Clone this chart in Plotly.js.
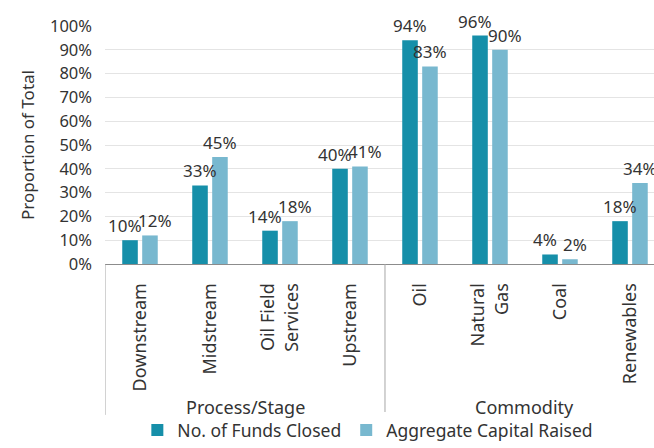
<!DOCTYPE html>
<html>
<head>
<meta charset="utf-8">
<script src="https://cdn.plot.ly/plotly-3.0.1.min.js"></script>
<style>
  html, body { margin: 0; padding: 0; background: #fff; }
  #chart { width: 654px; height: 448px; }
</style>
</head>
<body>
<div id="chart"></div>
<script>
// Categories, grouped into two sections
const categories = ["Downstream", "Midstream", "Oil Field Services", "Upstream",
                    "Oil", "Natural Gas", "Coal", "Renewables"];
const categoryLabels = ["Downstream", "Midstream", "Oil Field<br>Services", "Upstream",
                        "Oil", "Natural<br>Gas", "Coal", "Renewables"];
const groupNames = ["Process/Stage", "Commodity"];
const groupSizes = [4, 4];

// Shares of the total, per series
const fundsClosed = [0.10, 0.33, 0.14, 0.40, 0.94, 0.96, 0.04, 0.18];
const capitalRaised = [0.12, 0.45, 0.18, 0.41, 0.83, 0.90, 0.02, 0.34];

const seriesNames = ["No. of Funds Closed", "Aggregate Capital Raised"];
const seriesColors = ["#168fa9", "#78b8cf"];

const FONT = "Noto Sans, sans-serif";
const TEXT = "#333333";
const BARGAP = 0.43;
const BARGROUPGAP = 0.22;
const xIdx = categories.map((_, i) => i);
const series = [fundsClosed, capitalRaised];

function barTrace(values, k) {
  return {
    type: "bar",
    name: seriesNames[k],
    x: xIdx,
    y: values,
    marker: { color: seriesColors[k] },
    hoverinfo: "skip"
  };
}

const shapes = [];
const annotations = [];

// Value labels above each bar; neighbouring labels at similar heights are nudged apart
const slot = (1 - BARGAP) / series.length;
series.forEach((vals, k) => {
  vals.forEach((v, i) => {
    const other = series[1 - k][i];
    const crowded = Math.abs(v - other) < 0.07;
    annotations.push({
      xref: "x", yref: "y",
      x: i + (k - (series.length - 1) / 2) * slot,
      y: v,
      text: Math.round(v * 100) + "%",
      showarrow: false,
      yanchor: "bottom",
      yshift: 1,
      xshift: crowded ? (k === 0 ? -5 : 5) : 0,
      font: { family: FONT, size: 17, color: TEXT }
    });
  });
});

// Section boundaries and section names, in category units
let start = 0;
const lineBottom = -0.634;
shapes.push({ type: "line", xref: "x", yref: "paper", x0: -0.5, x1: -0.5, y0: 0, y1: lineBottom,
              line: { color: "#a6a6a6", width: 1 } });
groupNames.forEach((g, gi) => {
  const end = start + groupSizes[gi];
  annotations.push({ xref: "x", yref: "paper", x: (start + end - 1) / 2, y: -0.6,
                     text: g, showarrow: false, yanchor: "middle",
                     font: { family: FONT, size: 18, color: TEXT } });
  shapes.push({ type: "line", xref: "x", yref: "paper", x0: end - 0.5, x1: end - 0.5,
                y0: 0, y1: lineBottom, line: { color: "#a6a6a6", width: 1 } });
  start = end;
});

const layout = {
  width: 654, height: 448,
  margin: { l: 105, r: 0, t: 26, b: 184 },
  paper_bgcolor: "#fff", plot_bgcolor: "#fff",
  font: { family: FONT, color: TEXT },
  barmode: "group",
  bargap: BARGAP,
  bargroupgap: BARGROUPGAP,
  showlegend: true,
  legend: {
    orientation: "h", xref: "container", yref: "container",
    x: 0.21, y: 0, xanchor: "left", yanchor: "bottom",
    font: { family: FONT, size: 17.5, color: TEXT },
    itemwidth: 30, traceorder: "normal"
  },
  xaxis: {
    type: "linear",
    range: [-0.5, 7.343],
    tickmode: "array",
    tickvals: xIdx,
    ticktext: categoryLabels,
    tickangle: -90,
    ticks: "",
    ticklabelstandoff: 11,
    tickfont: { family: FONT, size: 18, color: TEXT },
    showgrid: false,
    zeroline: false,
    automargin: false,
    showline: true, linecolor: "#8c8c8c", linewidth: 1
  },
  yaxis: {
    range: [0, 1],
    tickvals: [0, 0.1, 0.2, 0.3, 0.4, 0.5, 0.6, 0.7, 0.8, 0.9, 1.0],
    tickformat: ".0%",
    ticks: "",
    ticklabelstandoff: 12,
    tickfont: { family: FONT, size: 16.5, color: TEXT },
    showgrid: true, gridcolor: "#e4e4e4", gridwidth: 1,
    zeroline: false,
    automargin: false,
    title: { text: "Proportion of Total", standoff: 11,
             font: { family: FONT, size: 17, color: TEXT } }
  },
  shapes: shapes,
  annotations: annotations
};

Plotly.newPlot("chart", [barTrace(fundsClosed, 0), barTrace(capitalRaised, 1)], layout,
               { displayModeBar: false, staticPlot: true });
</script>
</body>
</html>
